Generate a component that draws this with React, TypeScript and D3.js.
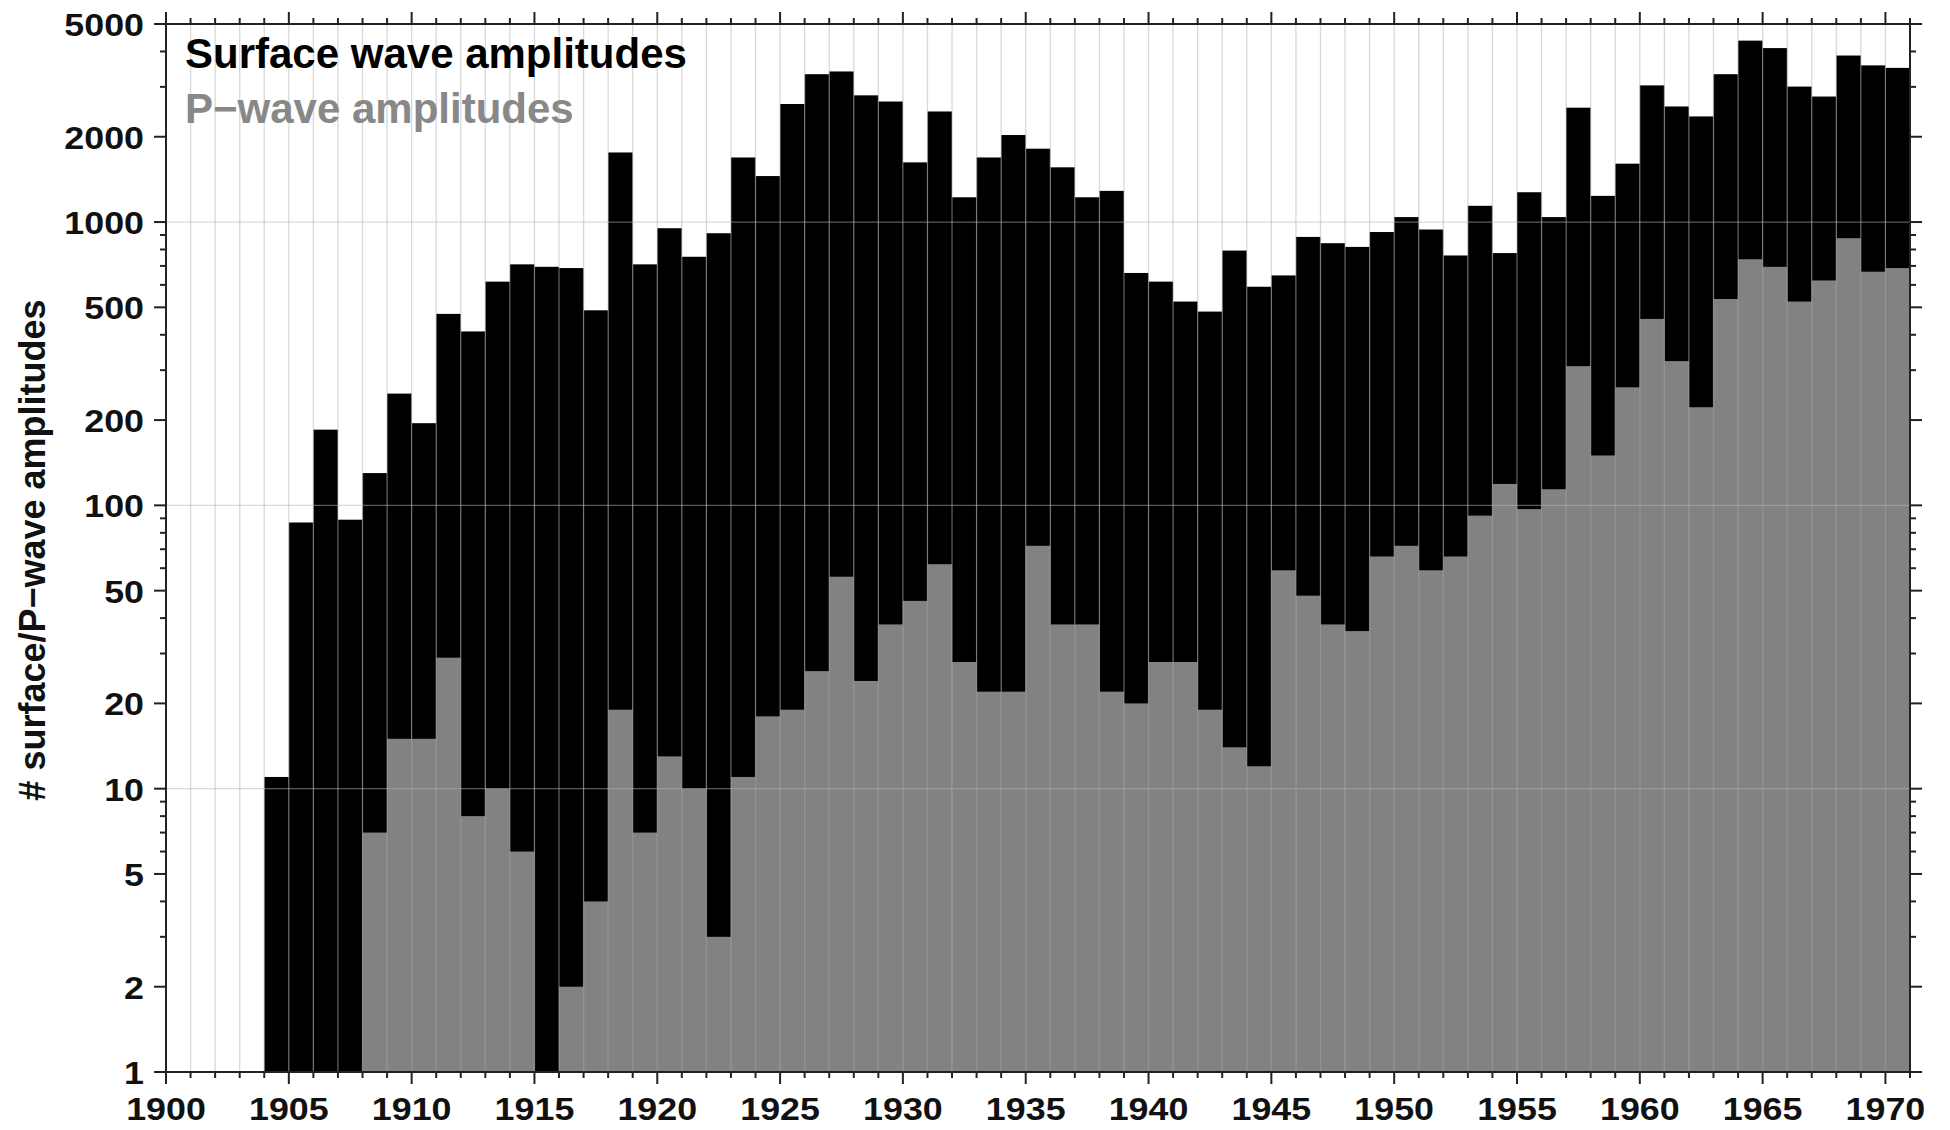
import * as d3 from "d3";
import React, { useEffect, useRef } from "react";

// one bar per year, 1904-1970
const years = d3.range(1904, 1971);

// number of surface wave amplitudes per year (black bars)
const surfaceCounts = [
  11, 87, 185, 89, 130, 248, 195, 474, 411, 616,
  709, 695, 688, 488, 1760, 709, 951, 754, 913, 1690,
  1453, 2610, 3325, 3400, 2800, 2663, 1624, 2456, 1223, 1690,
  2028, 1815, 1560, 1223, 1288, 661, 616, 524, 483, 793,
  591, 648, 886, 842, 817, 922, 1041, 941, 762, 1141,
  777, 1274, 1041, 2533, 1237, 1607, 3036, 2558, 2359, 3325,
  4368, 4111, 3007, 2773, 3870, 3572, 3500,
];

// number of P-wave amplitudes per year (grey bars)
const pwaveCounts = [
  0, 0, 0, 0, 7, 15, 15, 29, 8, 10,
  6, 0, 2, 4, 19, 7, 13, 10, 3, 11,
  18, 19, 26, 56, 24, 38, 46, 62, 28, 22,
  22, 72, 38, 38, 22, 20, 28, 28, 19, 14,
  12, 59, 48, 38, 36, 66, 72, 59, 66, 92,
  119, 97, 114, 310, 150, 261, 455, 323, 222, 535,
  739, 695, 524, 622, 877, 668, 688,
];

const yLabels = [1, 2, 5, 10, 20, 50, 100, 200, 500, 1000, 2000, 5000];
const yGrid = [10, 100, 1000];
const xLabels = [1900, 1905, 1910, 1915, 1920, 1925, 1930, 1935, 1940, 1945, 1950, 1955, 1960, 1965, 1970];

const W = 1950,
  H = 1130;
const margin = { top: 24, right: 40, bottom: 58, left: 166 };
const FONT = "'Liberation Sans', Arial, Helvetica, sans-serif";

export default function App() {
  const ref = useRef<SVGSVGElement>(null);

  useEffect(() => {
    const svg = d3.select(ref.current);
    svg.selectAll("*").remove();

    const x0 = margin.left,
      x1 = W - margin.right,
      y0 = H - margin.bottom,
      y1 = margin.top;

    const x = d3.scaleLinear().domain([1900, 1971]).range([x0, x1]);
    const y = d3.scaleLog().domain([1, 5000]).range([y0, y1]);

    svg.append("rect").attr("width", W).attr("height", H).attr("fill", "white");

    // bars: surface first, p-wave over it
    svg
      .append("g")
      .selectAll("rect")
      .data(years)
      .join("rect")
      .attr("x", (d) => x(d))
      .attr("width", (d) => x(d + 1) - x(d))
      .attr("y", (d, i) => y(surfaceCounts[i]))
      .attr("height", (d, i) => y0 - y(surfaceCounts[i]))
      .attr("fill", "#000");

    svg
      .append("g")
      .selectAll("rect")
      .data(years.filter((d, i) => pwaveCounts[i] > 0))
      .join("rect")
      .attr("x", (d) => x(d))
      .attr("width", (d) => x(d + 1) - x(d))
      .attr("y", (d) => y(pwaveCounts[d - 1904]))
      .attr("height", (d) => y0 - y(pwaveCounts[d - 1904]))
      .attr("fill", "#828282");

    // grid drawn on top of the bars
    const grid = svg
      .append("g")
      .attr("stroke", "#b4b4b4")
      .attr("stroke-opacity", 0.5)
      .attr("stroke-width", 1.3);
    d3.range(1901, 1971).forEach((yr) =>
      grid.append("line").attr("x1", x(yr)).attr("x2", x(yr)).attr("y1", y1).attr("y2", y0)
    );
    yGrid.forEach((v) =>
      grid.append("line").attr("x1", x0).attr("x2", x1).attr("y1", y(v)).attr("y2", y(v))
    );

    // frame
    svg
      .append("rect")
      .attr("x", x0)
      .attr("y", y1)
      .attr("width", x1 - x0)
      .attr("height", y0 - y1)
      .attr("fill", "none")
      .attr("stroke", "#222")
      .attr("stroke-width", 2);

    const ticks = svg.append("g").attr("stroke", "#222").attr("stroke-width", 2);

    // year ticks, top and bottom
    d3.range(1900, 1972).forEach((yr) => {
      const len = yr % 5 === 0 ? 12 : 6;
      const xx = x(yr);
      ticks.append("line").attr("x1", xx).attr("x2", xx).attr("y1", y0).attr("y2", y0 + len);
      ticks.append("line").attr("x1", xx).attr("x2", xx).attr("y1", y1).attr("y2", y1 - len);
    });

    // log ticks, left and right
    y.ticks().forEach((v) => {
      const len = yLabels.includes(v) ? 12 : 6;
      const yy = y(v);
      ticks.append("line").attr("x1", x0).attr("x2", x0 - len).attr("y1", yy).attr("y2", yy);
      ticks.append("line").attr("x1", x1).attr("x2", x1 + len).attr("y1", yy).attr("y2", yy);
    });

    // tick labels
    const lab = svg
      .append("g")
      .attr("font-family", FONT)
      .attr("font-weight", "bold")
      .attr("font-size", 32)
      .attr("fill", "#111");

    xLabels.forEach((yr) =>
      lab
        .append("text")
        .attr("transform", `translate(${x(yr)},${y0 + 48}) scale(1.12,1)`)
        .attr("text-anchor", "middle")
        .text(yr)
    );

    yLabels.forEach((v) =>
      lab
        .append("text")
        .attr("transform", `translate(${x0 - 22},${y(v) + 12}) scale(1.12,1)`)
        .attr("text-anchor", "end")
        .text(v)
    );

    // axis title
    svg
      .append("text")
      .attr("transform", `translate(45,${(y0 + y1) / 2 + 2}) rotate(-90)`)
      .attr("text-anchor", "middle")
      .attr("font-family", FONT)
      .attr("font-weight", "bold")
      .attr("font-size", 36)
      .attr("fill", "#111")
      .text("# surface/P\u2212wave amplitudes");

    // legend text
    svg
      .append("text")
      .attr("x", 185)
      .attr("y", 68)
      .attr("font-family", FONT)
      .attr("font-weight", "bold")
      .attr("font-size", 42)
      .attr("fill", "#000")
      .text("Surface wave amplitudes");

    svg
      .append("text")
      .attr("x", 185)
      .attr("y", 123)
      .attr("font-family", FONT)
      .attr("font-weight", "bold")
      .attr("font-size", 42)
      .attr("fill", "#888")
      .text("P\u2212wave amplitudes");
  }, []);

  return (
    <div style={{ position: "absolute", left: 0, top: 0 }}>
      <svg ref={ref} width={W} height={H}></svg>
    </div>
  );
}
